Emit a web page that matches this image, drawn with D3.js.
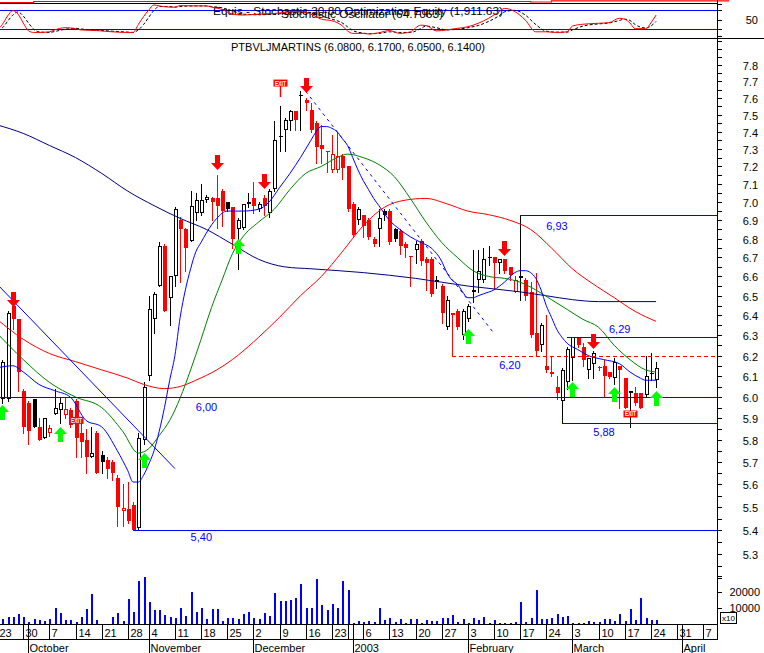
<!DOCTYPE html>
<html><head><meta charset="utf-8">
<script src="https://cdnjs.cloudflare.com/ajax/libs/d3/7.8.5/d3.min.js"></script>
<style>body{margin:0;background:#fff}svg{display:block}text{font-family:"Liberation Sans",Arial,sans-serif}</style>
</head><body><svg id="c" width="764" height="653"></svg>
<script>
// ---------------- DATA ----------------
const firstAxisDay = "2002-09-23";
const lastAxisDay = "2003-04-11";
const holidays = ["2002-11-01","2002-12-24","2002-12-25","2002-12-31","2003-01-01"];
const firstCandleIdx = 1;          // candles start 2002-09-24
const prevClose = 5.96;            // close of 2002-09-23
const titleText = "PTBVLJMARTINS (6.0800, 6.1700, 6.0500, 6.1400)";
const stochTitle1 = "Equis - Stochastic 30 80 Optimization Equity (1,911.63)";
const stochTitle2 = "Stochastic Oscillator (64.7063)";

const open = [5.99,5.99,6.45,6.38,6.03,5.97,5.99,5.86,5.81,5.83,
 5.92,5.94,5.915,5.94,5.98,5.83,5.80,5.72,5.83,5.73,
 5.71,5.70,5.63,5.485,5.49,5.51,5.41,5.80,6.10,6.38,
 6.55,6.76,6.49,6.60,6.90,6.85,6.79,6.94,6.94,7.01,
 7.02,7.02,7.06,7.00,6.97,6.85,6.86,6.99,7.02,6.96,
 7.02,6.94,7.07,7.375,7.41,7.46,7.52,7.61,7.59,7.53,
 7.45,7.32,7.29,7.18,7.18,7.26,7.20,6.99,6.90,6.93,
 6.90,6.80,6.85,6.95,6.95,6.85,6.84,6.77,6.71,6.74,
 6.79,6.69,6.69,6.58,6.55,6.34,6.41,6.42,6.30,6.38,
 6.52,6.58,6.58,6.70,6.70,6.67,6.69,6.65,6.52,6.60,
 6.58,6.52,6.31,6.25,6.15,6.12,6.05,5.98,6.07,6.19,
 6.29,6.24,6.13,6.16,6.145,6.15,6.12,6.09,6.15,6.09,
 6.02,6.02,6.02,6.01,6.115,6.08];
const high = [6.18,6.42,6.46,6.38,6.04,5.98,5.99,5.90,5.90,5.87,
 6.04,6.00,6.00,5.95,5.99,5.90,5.85,5.86,5.84,5.75,
 5.72,5.71,5.64,5.60,5.61,5.52,5.83,6.07,6.50,6.52,
 6.78,6.77,6.60,6.97,6.92,6.86,7.06,7.05,7.10,7.04,
 7.03,7.15,7.07,7.00,6.97,6.91,6.99,7.05,7.11,7.00,
 7.04,7.07,7.46,7.55,7.48,7.53,7.52,7.64,7.60,7.57,
 7.46,7.44,7.29,7.38,7.40,7.27,7.20,7.00,6.97,6.93,
 6.91,6.81,6.96,6.96,6.96,6.86,6.85,6.78,6.71,6.79,
 6.80,6.70,6.70,6.60,6.56,6.50,6.41,6.43,6.43,6.46,
 6.74,6.74,6.75,6.76,6.70,6.69,6.69,6.65,6.60,6.93,
 6.59,6.57,6.62,6.36,6.40,6.20,6.10,6.14,6.24,6.29,
 6.29,6.26,6.19,6.22,6.15,6.18,6.12,6.19,6.15,6.09,
 6.03,6.05,6.02,6.20,6.21,6.17];
const low = [5.97,5.98,6.33,6.03,5.83,5.78,5.86,5.80,5.81,5.82,
 5.92,5.88,5.90,5.86,5.72,5.72,5.65,5.72,5.65,5.65,
 5.63,5.62,5.42,5.42,5.43,5.40,5.40,5.78,6.08,6.31,
 6.55,6.42,6.35,6.55,6.57,6.63,6.79,6.90,6.93,7.00,
 6.90,6.86,6.87,6.95,6.75,6.64,6.85,6.97,6.94,6.95,
 6.93,6.92,7.06,7.29,7.29,7.41,7.41,7.41,7.53,7.40,
 7.22,7.22,7.17,7.17,7.17,7.13,6.95,6.81,6.88,6.81,
 6.80,6.76,6.76,6.90,6.77,6.79,6.72,6.70,6.55,6.67,
 6.66,6.53,6.50,6.54,6.36,6.33,6.20,6.33,6.28,6.37,
 6.47,6.52,6.57,6.66,6.54,6.62,6.62,6.58,6.52,6.48,
 6.48,6.29,6.20,6.22,6.12,6.10,5.99,5.88,6.04,6.08,
 6.24,6.15,6.09,6.09,6.13,6.00,6.09,6.06,5.95,5.95,
 5.86,5.96,5.95,6.00,6.08,6.05];
const close = [6.17,6.41,6.38,6.12,5.86,5.84,5.86,5.80,5.90,5.855,
 5.95,5.97,5.945,5.87,5.81,5.79,5.72,5.74,5.65,5.70,
 5.67,5.65,5.50,5.495,5.44,5.40,5.81,6.05,6.43,6.51,
 6.76,6.42,6.60,6.96,6.85,6.75,6.98,7.01,7.01,7.03,
 7.00,6.98,6.95,6.96,6.80,6.90,6.99,7.00,6.98,6.99,
 6.98,7.06,7.35,7.37,7.47,7.52,7.47,7.62,7.57,7.41,
 7.31,7.30,7.28,7.27,7.26,7.19,6.96,6.82,6.96,6.87,
 6.81,6.77,6.91,6.93,6.78,6.80,6.76,6.75,6.70,6.77,
 6.68,6.67,6.51,6.57,6.41,6.48,6.40,6.34,6.42,6.45,
 6.53,6.63,6.69,6.70,6.67,6.69,6.63,6.61,6.58,6.59,
 6.50,6.30,6.22,6.35,6.13,6.11,6.02,6.13,6.23,6.29,
 6.25,6.18,6.19,6.21,6.14,6.10,6.095,6.17,6.13,5.95,
 6.03,5.97,5.95,6.10,6.11,6.14];
const volume = [3100,4200,4200,6000,4600,1300,2900,2500,1900,3100,
 9800,6700,2300,2500,1000,4600,9200,18500,2500,0,
 0,4400,6900,2100,15400,7300,26900,29200,13500,8500,
 8800,5400,4600,4000,9800,5000,19800,7700,9800,2900,
 9200,9200,1900,3500,3500,2900,6300,7700,3500,3300,
 6700,4800,19200,14200,14200,14800,16000,25000,10000,10000,
 27900,11900,8500,12500,9800,26900,21000,800,1700,1000,
 1700,1000,9800,2300,3500,1500,2900,800,2900,2900,
 400,2300,1900,1900,3500,3500,5600,1000,2900,800,
 3500,2300,4400,800,2300,400,400,400,1000,14000,
 1500,3500,21300,2900,2900,3500,6300,4600,5000,800,
 800,800,1700,1300,1500,3100,3100,1900,6000,1900,
 9200,2500,16000,3500,2500,2500];

// moving averages (index, value)
const navyIdx = [0,5,10,15,20,25,30,35,40,45,50,55,60,70,80,90,100,105,110,115,126];
const navyVal = [7.44,7.39,7.32,7.25,7.16,7.06,6.98,6.91,6.85,6.77,6.69,6.65,6.64,6.62,6.59,6.55,6.52,6.50,6.48,6.47,6.47];
const redIdx = [0,5,10,15,20,25,28,32,35,38,42,46,50,54,58,62,66,70,74,78,82,86,90,94,98,102,106,110,114,118,122,126];
const redVal = [6.38,6.28,6.21,6.17,6.13,6.09,6.06,6.04,6.05,6.08,6.13,6.20,6.29,6.39,6.50,6.60,6.73,6.87,6.97,7.01,7.02,6.99,6.95,6.93,6.90,6.85,6.75,6.64,6.56,6.49,6.42,6.37];
const greenIdx = [0,5,10,15,20,24,27,29,31,33,35,37,39,41,43,45,47,50,53,56,59,62,65,67,70,73,76,79,82,85,88,91,94,97,100,103,106,109,112,115,118,121,124,126];
const greenVal = [6.31,6.18,6.07,6.00,5.95,5.84,5.74,5.76,5.82,5.89,5.995,6.13,6.28,6.44,6.58,6.72,6.81,6.89,6.96,7.07,7.16,7.20,7.25,7.27,7.25,7.21,7.14,7.02,6.89,6.78,6.70,6.63,6.60,6.59,6.57,6.53,6.48,6.43,6.38,6.34,6.25,6.18,6.13,6.12];
const blueIdx = [0,3,5,8,11,14,17,20,23,25,26,27,28,29,30,31,32,33,34,35,36,37,38,39,40,42,44,47,50,52,54,56,58,60,61,62,63,64,65,66,67,68,69,70,71,72,73,75,77,79,81,83,85,86,87,88,89,90,91,92,93,95,97,99,100,101,102,103,104,105,106,107,108,109,111,113,116,119,121,123,124,126];
const blueVal = [6.14,6.15,6.12,6.06,6.03,6.00,5.89,5.86,5.75,5.66,5.61,5.61,5.64,5.69,5.75,5.84,5.95,6.08,6.20,6.39,6.53,6.64,6.73,6.78,6.83,6.91,6.95,6.95,6.96,7.00,7.08,7.16,7.25,7.35,7.40,7.43,7.43,7.42,7.40,7.36,7.32,7.25,7.18,7.12,7.07,7.02,6.98,6.90,6.85,6.81,6.78,6.75,6.68,6.62,6.58,6.56,6.52,6.49,6.49,6.50,6.51,6.53,6.57,6.62,6.63,6.63,6.62,6.59,6.53,6.45,6.39,6.33,6.29,6.26,6.23,6.20,6.18,6.16,6.12,6.09,6.08,6.08];

// trend lines
const trendIdx0 = [0, 59], trendP0 = [6.56, 7.64];
const trendIdx1 = [34, 95], trendP1 = [5.67, 6.31];
const trendDashed = [false, true];

// support / resistance
const srPrice = [6.00, 5.40, 6.93, 6.29, 5.88];
const srFrom  = [0, 26, 100, 109, 108];
const srText  = ["6,00","5,40","6,93","6,29","5,88"];
const srLabelIdx = [38, 37, 105, 117, 114];
const srLabelDy  = [14, 11, 15, -4, 13];
const redSR = 6.20, redSRFrom = 87, redSRText = "6,20", redSRLabelIdx = 96;

// signals
const sellIdx = [3,42,51,59,97,114], sellTip = [6.44,7.18,7.07,7.63,6.71,6.23];
const buyIdx = [1,12,28,46,90,110,118,126], buyTip = [5.96,5.86,5.74,6.80,6.33,6.07,6.05,6.03];
const exitIdx = [15,54,121], exitPrice = [5.89,7.69,5.92], exitStem = [false,true,false];

// stochastic panel
const stochIdx = [0,1,2,3,4,5,6,7,8,10,11,13,15,16,19,22,25,26,27,28,29,30,31,33,34,35,38,40,41,43,45,47,50,53,56,58,60,62,64,66,67,68,70,71,73,75,77,79,81,82,84,86,88,90,92,94,96,97,99,101,103,105,107,109,110,112,115,117,119,120,121,122,124,125,126];
const stochK = [18,35,62,79,68,40,15,10,10,12,18,25,22,18,16,12,10,10,35,60,81,97,94,90,90,95,94,94,90,83,68,65,68,70,75,76,68,52,47,31,15,7,7,5,9,16,7,12,33,32,15,18,23,28,39,55,76,86,76,49,12,12,10,12,30,36,39,41,55,52,40,22,22,40,65];
const stochD = [22,25,45,65,75,62,40,20,12,10,13,20,23,21,17,14,11,10,18,35,58,80,92,92,90,92,94,94,92,88,78,68,66,68,72,75,73,62,52,40,28,16,8,6,7,12,10,10,22,30,25,18,20,25,32,45,63,75,80,65,35,14,11,11,18,30,37,40,48,52,48,35,24,30,45];
const stochLevels = [80, 20];
const equityIdx = [0,6,7,101,102,105,106,140];
const equityVal = [1880,1880,1900,1900,1890,1890,1911.63,1911.63];

// axis ticks
const weekTickDates = ["2002-09-23","2002-09-30","2002-10-07","2002-10-14","2002-10-21","2002-10-28","2002-11-04","2002-11-11","2002-11-18","2002-11-25","2002-12-02","2002-12-09","2002-12-16","2002-12-23","2002-12-30","2003-01-06","2003-01-13","2003-01-20","2003-01-27","2003-02-03","2003-02-10","2003-02-17","2003-02-24","2003-03-03","2003-03-10","2003-03-17","2003-03-24","2003-03-31","2003-04-07"];
const weekTickLabels = ["23","30","7","14","21","28","4","11","18","25","2","9","16","23","","6","13","20","27","3","10","17","24","3","10","17","24","31","7"];
const monthDates = ["2002-10-01","2002-11-04","2002-12-02","2003-01-02","2003-02-03","2003-03-03","2003-04-01"];
const monthLabels = ["October","November","December","2003","February","March","April"];
const volTicks = [10000, 20000, 30000], volLabels = [10000, 20000];

// ---------------- LAYOUT ----------------
const svg = d3.select("#c");
const AX = 717;
const parse = d3.utcParse("%Y-%m-%d"), fmt = d3.utcFormat("%Y-%m-%d");
const days = [];
for (let d = parse(firstAxisDay); d <= parse(lastAxisDay); d = d3.utcDay.offset(d, 1)) {
  const wd = d.getUTCDay();
  if (wd === 0 || wd === 6 || holidays.includes(fmt(d))) continue;
  days.push(fmt(d));
}
const dateIdx = new Map(days.map((d, i) => [d, i]));
const x = d3.scaleLinear().domain([0, 1]).range([-2.9, -2.9 + 5.23]);
const cx = i => Math.round(x(i));
const Y6 = 397, K = 1265;
const y = d3.scaleLog().domain([5.4, 7.8]).range([Y6 - K * Math.log(5.4 / 6), Y6 - K * Math.log(7.8 / 6)]);
const yv = d3.scaleLinear().domain([0, 20000]).range([624, 592]);
const ys = d3.scaleLinear().domain([0, 100]).range([35.6, 4]);
const ye = d3.scaleLinear().domain([1860, 1920]).range([3.5, 0.5]);

const defs = svg.append("defs");
defs.append("clipPath").attr("id", "cm").append("rect").attr("x", 0).attr("y", 39).attr("width", AX).attr("height", 586);
defs.append("clipPath").attr("id", "cs").append("rect").attr("x", 0).attr("y", 4).attr("width", AX).attr("height", 34);

const BLUE = "#0000ff", RED = "#ff0000", GREEN = "#008000", NAVY = "#000080", LIME = "#00ff00";

// ---------- stochastic panel ----------
const sp = svg.append("g");
sp.append("path").datum(equityIdx.map((d, k) => [d, equityVal[k]]))
  .attr("d", d3.line().x(d => x(d[0])).y(d => ye(d[1])).curve(d3.curveStepAfter))
  .attr("fill", "none").attr("stroke", RED).attr("stroke-width", 1.2);
sp.append("line").attr("x1", 0).attr("x2", AX).attr("y1", 3.5).attr("y2", 3.5).attr("stroke", "#000");
stochLevels.forEach(l => sp.append("line").attr("x1", 0).attr("x2", AX)
  .attr("y1", Math.round(ys(l)) + 0.5).attr("y2", Math.round(ys(l)) + 0.5).attr("stroke", BLUE));
sp.append("text").attr("x", 213).attr("y", 15).attr("font-size", 11).attr("textLength", 290)
  .attr("lengthAdjust", "spacingAndGlyphs").text(stochTitle1);
sp.append("text").attr("x", 281).attr("y", 17.5).attr("font-size", 11).attr("textLength", 162)
  .attr("lengthAdjust", "spacingAndGlyphs").text(stochTitle2);
const spl = sp.append("g").attr("clip-path", "url(#cs)");
spl.append("path").datum(stochIdx.map((d, k) => [d, stochD[k]]))
  .attr("d", d3.line().x(d => x(d[0])).y(d => ys(d[1])).curve(d3.curveMonotoneX))
  .attr("fill", "none").attr("stroke", "#000").attr("stroke-dasharray", "3,2");
spl.append("path").datum(stochIdx.map((d, k) => [d, stochK[k]]))
  .attr("d", d3.line().x(d => x(d[0])).y(d => ys(d[1])).curve(d3.curveMonotoneX))
  .attr("fill", "none").attr("stroke", RED);
sp.append("line").attr("x1", 0).attr("x2", 764).attr("y1", 38.5).attr("y2", 38.5).attr("stroke", "#000");
[100, 80, 50, 20, 0].forEach(v => sp.append("line").attr("x1", AX).attr("x2", AX + 5)
  .attr("y1", Math.round(ys(v)) + 0.5).attr("y2", Math.round(ys(v)) + 0.5).attr("stroke", "#000"));
sp.append("text").attr("x", 758).attr("y", ys(50) + 4.5).attr("text-anchor", "end").attr("font-size", 11).text("50");

// ---------- title ----------
svg.append("text").attr("x", 231).attr("y", 51).attr("font-size", 11).attr("textLength", 254)
  .attr("lengthAdjust", "spacingAndGlyphs").text(titleText);

// ---------- main panel ----------
const mp = svg.append("g").attr("clip-path", "url(#cm)").attr("shape-rendering", "crispEdges");
// volume
volume.forEach((v, k) => {
  if (!v) return;
  const i = k + firstCandleIdx;
  mp.append("rect").attr("x", cx(i)).attr("y", yv(v)).attr("width", 2).attr("height", 624 - yv(v)).attr("fill", BLUE);
});
// candles
open.forEach((o, k) => {
  const i = k + firstCandleIdx;
  const h = high[k], l = low[k], c = close[k], pc = k ? close[k - 1] : prevClose;
  const col = c < pc ? RED : "#000";
  const X = cx(i);
  mp.append("line").attr("x1", X + 0.5).attr("x2", X + 0.5).attr("y1", Math.round(y(h))).attr("y2", Math.round(y(l)) + 1).attr("stroke", col);
  const top = Math.round(y(Math.max(o, c))), bot = Math.round(y(Math.min(o, c)));
  if (c >= o) {
    if (bot - top < 2) {
      mp.append("rect").attr("x", X - 1).attr("y", top).attr("width", 4).attr("height", Math.max(bot - top, 1)).attr("fill", col);
    } else {
      mp.append("rect").attr("x", X - 0.5).attr("y", top + 0.5).attr("width", 3).attr("height", bot - top - 1)
        .attr("fill", "#fff").attr("stroke", col);
    }
  } else {
    mp.append("rect").attr("x", X - 1).attr("y", top).attr("width", 4).attr("height", Math.max(bot - top, 1)).attr("fill", col);
  }
});

// indicator lines
const ml = svg.append("g").attr("clip-path", "url(#cm)");
function maLine(idx, val, color) {
  ml.append("path").datum(idx.map((d, k) => [d, val[k]]))
    .attr("d", d3.line().x(d => x(d[0])).y(d => y(d[1])).curve(d3.curveMonotoneX))
    .attr("fill", "none").attr("stroke", color).attr("stroke-width", 1);
}
maLine(navyIdx, navyVal, NAVY);
maLine(redIdx, redVal, RED);
maLine(greenIdx, greenVal, GREEN);
maLine(blueIdx, blueVal, BLUE);
trendIdx0.forEach((i0, k) => {
  ml.append("line").attr("x1", x(i0)).attr("y1", y(trendP0[k])).attr("x2", x(trendIdx1[k])).attr("y2", y(trendP1[k]))
    .attr("stroke", BLUE).attr("stroke-dasharray", trendDashed[k] ? "3,4" : null);
});
// support / resistance
const sr = svg.append("g").attr("clip-path", "url(#cm)").attr("shape-rendering", "crispEdges");
srPrice.forEach((p, k) => {
  const yy = Math.round(y(p)) + 0.5;
  sr.append("line").attr("x1", Math.max(0, cx(srFrom[k]))).attr("x2", AX).attr("y1", yy).attr("y2", yy).attr("stroke", BLUE);
});
{
  const yy = Math.round(y(redSR)) + 0.5;
  sr.append("line").attr("x1", cx(redSRFrom)).attr("x2", AX).attr("y1", yy).attr("y2", yy).attr("stroke", RED).attr("stroke-dasharray", "4,3");
}
srPrice.forEach((p, k) => {
  svg.append("text").attr("x", x(srLabelIdx[k])).attr("y", y(p) + srLabelDy[k]).attr("font-size", 11).attr("fill", BLUE).text(srText[k]);
});
svg.append("text").attr("x", x(redSRLabelIdx)).attr("y", y(redSR) + 13).attr("font-size", 11).attr("fill", BLUE).text(redSRText);

// signals
const sg = svg.append("g");
sellIdx.forEach((i, k) => {
  const c = cx(i) + 0.5, t = Math.round(y(sellTip[k]));
  sg.append("path").attr("d", `M${c-2.5},${t-15}H${c+2.5}V${t-7}H${c+6.5}L${c},${t}L${c-6.5},${t-7}H${c-2.5}Z`).attr("fill", RED);
});
buyIdx.forEach((i, k) => {
  const c = cx(i) + 0.5, t = Math.round(y(buyTip[k]));
  sg.append("path").attr("d", `M${c},${t}L${c+6.5},${t+7}H${c+2.5}V${t+15}H${c-2.5}V${t+7}H${c-6.5}Z`).attr("fill", LIME);
});
exitIdx.forEach((i, k) => {
  const c = cx(i) + 0.5, m = y(exitPrice[k]);
  if (exitStem[k]) sg.append("line").attr("x1", c).attr("x2", c).attr("y1", m + 3).attr("y2", m + 14).attr("stroke", RED).attr("stroke-width", 1.5);
  sg.append("rect").attr("x", c - 7).attr("y", m - 3.5).attr("width", 14).attr("height", 7).attr("fill", RED);
  sg.append("text").attr("x", c).attr("y", m + 2.5).attr("text-anchor", "middle").attr("font-size", 6.5)
    .attr("font-weight", "bold").attr("fill", "#fff").attr("textLength", 11).attr("lengthAdjust", "spacingAndGlyphs").text("EXIT");
});

// ---------- right axis ----------
const ax = svg.append("g").attr("shape-rendering", "crispEdges");
ax.append("line").attr("x1", AX + 0.5).attr("x2", AX + 0.5).attr("y1", 0).attr("y2", 640).attr("stroke", "#000");
d3.range(104, 160).map(v => v / 20).forEach(v => {
  const yy = Math.round(y(v)) + 0.5;
  if (yy < 41 || yy > 582) return;
  ax.append("line").attr("x1", AX).attr("x2", AX + 5).attr("y1", yy).attr("y2", yy).attr("stroke", "#000");
});
d3.range(53, 79).map(v => v / 10).forEach(v => {
  svg.append("text").attr("x", 758).attr("y", y(v) + 5).attr("text-anchor", "end").attr("font-size", 11).text(d3.format(".1f")(v));
});
volTicks.forEach(v => ax.append("line").attr("x1", AX).attr("x2", AX + 5)
  .attr("y1", Math.round(yv(v)) + 0.5).attr("y2", Math.round(yv(v)) + 0.5).attr("stroke", "#000"));
volLabels.forEach(v => svg.append("text").attr("x", 760).attr("y", yv(v) + 4).attr("text-anchor", "end").attr("font-size", 11).text(v));
ax.append("rect").attr("x", 720.5).attr("y", 612.5).attr("width", 16).attr("height", 11).attr("fill", "none").attr("stroke", "#000");
svg.append("text").attr("x", 722).attr("y", 621).attr("font-size", 8).text("x10");

// ---------- bottom axis ----------
ax.append("line").attr("x1", 0).attr("x2", AX).attr("y1", 624.5).attr("y2", 624.5).attr("stroke", "#000");
ax.append("line").attr("x1", 0).attr("x2", AX).attr("y1", 639.5).attr("y2", 639.5).attr("stroke", "#000");
weekTickDates.forEach((d, k) => {
  const X = cx(dateIdx.get(d)) + 0.5;
  if (X < 0) { svg.append("text").attr("x", X + 2).attr("y", 636.5).attr("font-size", 11).text(weekTickLabels[k]); return; }
  ax.append("line").attr("x1", X).attr("x2", X).attr("y1", 625).attr("y2", 640).attr("stroke", "#000");
  svg.append("text").attr("x", X + 2).attr("y", 636.5).attr("font-size", 11).text(weekTickLabels[k]);
});
monthDates.forEach((d, k) => {
  const X = cx(dateIdx.get(d)) + 0.5;
  ax.append("line").attr("x1", X).attr("x2", X).attr("y1", 625).attr("y2", 653).attr("stroke", "#000");
  svg.append("text").attr("x", X + 1).attr("y", 651.5).attr("font-size", 11).text(monthLabels[k]);
});
</script></body></html>
